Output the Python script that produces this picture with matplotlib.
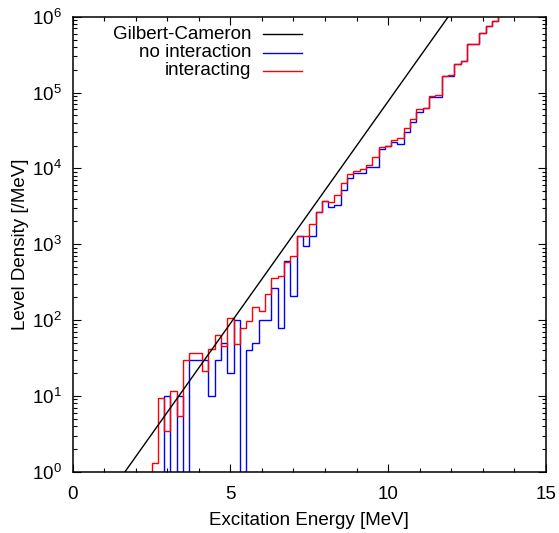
import numpy as np
import matplotlib
matplotlib.use("Agg")
import matplotlib.pyplot as plt

plt.rcParams['font.family'] = ['Liberation Sans', 'DejaVu Sans']
plt.rcParams['mathtext.default'] = 'regular'

# ---- data ----
bin_width = 0.2
first_center = 2.6
red_vals = [1.3, 9.5, 3.4, 11.6, 5.5, 29.5, 37, 37, 21, 42, 63, 46, 105, 48, 79, 98,
            150, 133, 218, 355, 385, 589, 700, 1283, 1283, 1848, 2690, 3750, 3600, 4460,
            6350, 8400, 9300, 9800, 11100, 14300, 19300, 19900, 23700, 24900, 34400,
            44800, 60000, 62000, 91000, 92000, 165000, 168000, 238000, 263000, 433000,
            433000, 604000, 762000, 887000, 1.2e6]
blue_vals = [0, 0, 10, 0, 10, 0, 30, 30, 30, 10, 30, 50, 20, 100, 0, 40, 50, 100, 100,
             262, 79, 600, 207, 1283, 946, 1290, 2690, 3750, 3125, 3290, 5190, 7400,
             8770, 8770, 10300, 10500, 18000, 19900, 22500, 21000, 30500, 40500, 55000,
             62000, 88000, 88000, 163000, 165000, 238000, 263000, 433000, 433000, 604000,
             762000, 887000, 1.2e6]
# Gilbert-Cameron constant-temperature parameters
gc_T = 0.742
gc_E0 = 1.881

labels = ['Gilbert-Cameron', 'no interaction', 'interacting']
xticks = [0, 5, 10, 15]

# ---- figure ----
W, H = 559, 533
fig = plt.figure(figsize=(W/100, H/100), dpi=100)
ax = fig.add_axes([72.7/W, (H-471.7)/H, 473/W, 455/H])

n_lead = int(round((first_center) / bin_width))
centers = np.arange(0, n_lead + len(red_vals)) * bin_width
edges = np.concatenate([centers - bin_width/2, [centers[-1] + bin_width/2]])
red = np.concatenate([np.zeros(n_lead), red_vals])
blue = np.concatenate([np.zeros(n_lead), blue_vals])
floor = 1e-3
red_d = np.where(red > 0, red, floor)
blue_d = np.where(blue > 0, blue, floor)

E = np.linspace(0, 15, 600)
gc = np.exp((E - gc_E0) / gc_T) / gc_T

lw = 1.0
ax.plot(E, gc, color='black', lw=lw)
ax.stairs(blue_d, edges, color='#0000ff', lw=lw, baseline=None)
ax.stairs(red_d, edges, color='#ff0000', lw=lw, baseline=None)

ax.set_yscale('log')
ax.set_xlim(0, 15)
ax.set_ylim(1, 1e6)
ax.set_xticks(xticks)
ax.set_xticklabels([str(v) for v in xticks])
ax.xaxis.set_minor_locator(matplotlib.ticker.MultipleLocator(1))
ax.yaxis.set_minor_locator(matplotlib.ticker.LogLocator(base=10, subs=np.arange(2, 10), numticks=20))
ax.yaxis.set_minor_formatter(matplotlib.ticker.NullFormatter())

fs = 13.5
ax.tick_params(which='both', direction='in', top=True, right=True, labelsize=fs, width=0.8)
ax.tick_params(which='major', length=6)
ax.tick_params(which='minor', length=3.2)
ax.tick_params(axis='x', which='major', pad=10)
ax.tick_params(axis='y', which='major', pad=8)
for s in ax.spines.values():
    s.set_linewidth(1.1)

ax.set_xlabel('Excitation Energy [MeV]', fontsize=fs, labelpad=7)
ax.set_ylabel('Level Density [/MeV]', fontsize=fs, labelpad=2)

# gnuplot-style key: right-aligned text, sample line to the right
colors = ['black', '#0000ff', '#ff0000']
ys = [0.961, 0.921, 0.881]
for lab, c, y in zip(labels, colors, ys):
    ax.text(0.377, y, lab, transform=ax.transAxes, ha='right', va='center', fontsize=fs)
    ax.plot([0.402, 0.485], [y, y], transform=ax.transAxes, color=c, lw=lw)

fig.savefig('out.png', dpi=100)
